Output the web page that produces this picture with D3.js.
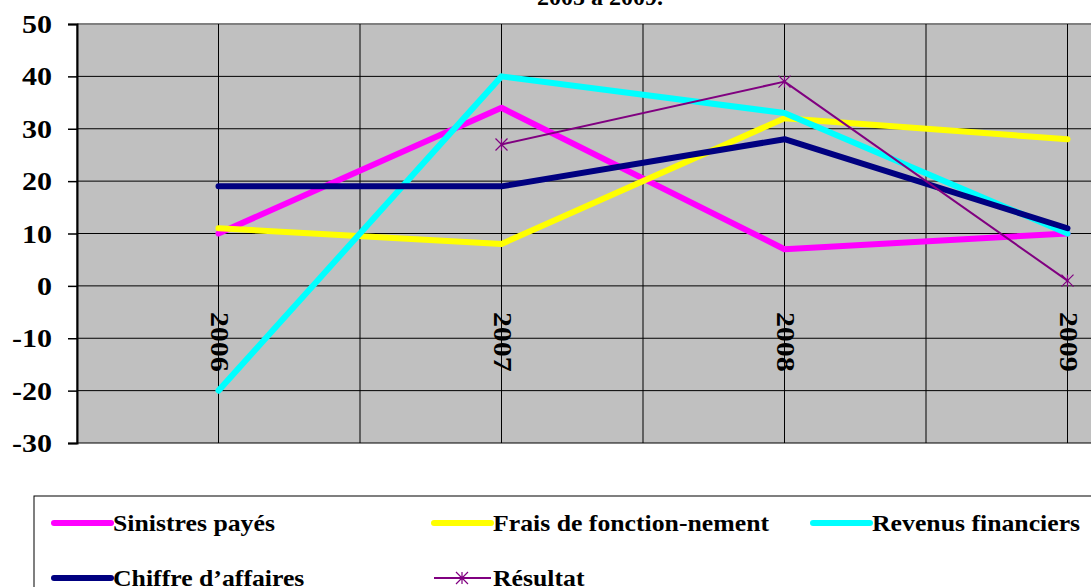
<!DOCTYPE html>
<html>
<head>
<meta charset="utf-8">
<script src="https://cdn.jsdelivr.net/npm/d3@7"></script>
<style>
  body { margin: 0; background: #fff; }
  svg { display: block; font-family: "Liberation Serif", "Times New Roman", serif; font-weight: bold; }
</style>
</head>
<body>
<div id="chart"></div>
<script>
// data
var years = ["2006", "2007", "2008", "2009"];
var sinistres = [10, 34, 7, 10];
var frais = [11, 8, 32, 28];
var revenus = [-20, 40, 33, 10];
var chiffre = [19, 19, 28, 11];
var resultat = [null, 27, 39, 1];
var yTicks = [50, 40, 30, 20, 10, 0, -10, -20, -30];

var series = [
  {name: "Sinistres payés", values: sinistres, color: "#ff00ff", width: 6},
  {name: "Frais de fonction-nement", values: frais, color: "#ffff00", width: 6},
  {name: "Revenus financiers", values: revenus, color: "#00ffff", width: 6},
  {name: "Chiffre d\u2019affaires", values: chiffre, color: "#000080", width: 6},
  {name: "Résultat", values: resultat, color: "#800080", width: 2, marker: true}
];

var W = 1091, H = 587;
var plotLeft = 77, plotTop = 24, plotBottom = 443, band = 283;
var plotRight = plotLeft + band * years.length;

var svg = d3.select("#chart").append("svg")
  .attr("width", W).attr("height", H);

var x = d3.scaleBand().domain(years).range([plotLeft, plotRight]).padding(0);
var y = d3.scaleLinear().domain([-30, 50]).range([plotBottom, plotTop]);
var cx = function(d) { return x(d) + x.bandwidth() / 2; };

// title (cut at top)
svg.append("text")
  .attr("x", 600).attr("y", 5)
  .attr("text-anchor", "middle")
  .style("font-size", "24px")
  .text("2005 à 2009.");

// plot area
svg.append("rect")
  .attr("x", plotLeft).attr("y", plotTop)
  .attr("width", plotRight - plotLeft).attr("height", plotBottom - plotTop)
  .attr("fill", "#c0c0c0");

// horizontal gridlines
svg.selectAll(".hgrid").data(yTicks).enter().append("line")
  .attr("x1", plotLeft).attr("x2", plotRight)
  .attr("y1", function(d) { return y(d); }).attr("y2", function(d) { return y(d); })
  .attr("stroke", function(d) { return d == 50 ? "#808080" : "#000"; })
  .attr("stroke-width", function(d) { return d == 50 ? 2 : 1; });

// vertical gridlines at band edges and centres
var vlines = [];
years.forEach(function(d) { vlines.push(x(d)); vlines.push(cx(d)); });
svg.selectAll(".vgrid").data(vlines).enter().append("line")
  .attr("x1", function(d) { return d; }).attr("x2", function(d) { return d; })
  .attr("y1", plotTop).attr("y2", plotBottom)
  .attr("stroke", "#000").attr("stroke-width", 1);

// y axis
var yAxis = svg.append("g")
  .attr("transform", "translate(" + plotLeft + ",0)")
  .call(d3.axisLeft(y).tickValues(yTicks).tickSize(9).tickPadding(14)
        .tickFormat(function(d) { return d < 0 ? "-" + Math.abs(d) : d; }));
yAxis.select(".domain").attr("stroke", "#000").attr("stroke-width", 2);
yAxis.selectAll("line").attr("stroke", "#000").attr("stroke-width", 1.5);
yAxis.selectAll("text")
  .attr("fill", "#000")
  .style("font-family", "'Liberation Serif', serif")
  .style("font-weight", "bold")
  .style("font-size", "25px")
  .attr("transform", "scale(1.2,1)")
  .attr("x", -25 / 1.2)
  .attr("dy", "0.34em");

// category labels, rotated, just below the zero line
svg.selectAll(".yr").data(years).enter().append("text")
  .attr("transform", function(d) { return "translate(" + (cx(d) - 8) + "," + (y(0) + 26) + ") rotate(90) scale(1.2,1)"; })
  .style("font-size", "25px")
  .text(function(d) { return d; });

// lines
var line = d3.line()
  .defined(function(d) { return d.v != null; })
  .x(function(d) { return cx(d.year); })
  .y(function(d) { return y(d.v); });

function drawStar(g, px, py, color) {
  var r = 6;
  g.append("path")
    .attr("d", "M" + (px - r) + "," + (py - r) + "L" + (px + r) + "," + (py + r) +
               "M" + (px - r) + "," + (py + r) + "L" + (px + r) + "," + (py - r) +
               "M" + px + "," + (py - r) + "L" + px + "," + (py + r))
    .attr("stroke", color).attr("stroke-width", 1.2).attr("fill", "none");
}

series.forEach(function(s) {
  var pts = years.map(function(yr, i) { return {year: yr, v: s.values[i]}; });
  svg.append("path")
    .datum(pts)
    .attr("d", line)
    .attr("fill", "none")
    .attr("stroke", s.color)
    .attr("stroke-width", s.width)
    .attr("stroke-linejoin", "round")
    .attr("stroke-linecap", "round");
  if (s.marker) {
    pts.filter(function(p) { return p.v != null; }).forEach(function(p) {
      drawStar(svg, cx(p.year), y(p.v), s.color);
    });
  }
});

// legend
svg.append("rect")
  .attr("x", 34).attr("y", 496)
  .attr("width", 1200).attr("height", 200)
  .attr("fill", "#fff").attr("stroke", "#000").attr("stroke-width", 1);

var legPos = [[54, 523], [434, 523], [813, 523], [54, 578], [434, 578]];
series.forEach(function(s, i) {
  var lx = legPos[i][0], ly = legPos[i][1];
  svg.append("line")
    .attr("x1", lx).attr("x2", lx + 57)
    .attr("y1", ly).attr("y2", ly)
    .attr("stroke", s.color)
    .attr("stroke-width", s.width)
    .attr("stroke-linecap", s.marker ? "butt" : "round");
  if (s.marker) drawStar(svg, lx + 28, ly, s.color);
  svg.append("text")
    .attr("transform", "translate(" + (lx + 59) + "," + (ly + 8) + ") scale(1.12,1)")
    .style("font-size", "23px")
    .text(s.name);
});
</script>
</body>
</html>
